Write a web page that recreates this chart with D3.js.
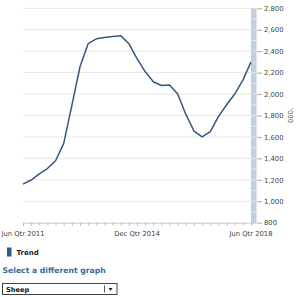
<!DOCTYPE html>
<html><head><meta charset="utf-8">
<script src="https://cdn.jsdelivr.net/npm/d3@7"></script>
<style>
body{margin:0;background:#fff;font-family:"DejaVu Sans",Verdana,sans-serif;}
svg{display:block;}
</style></head>
<body>
<svg id="c" width="300" height="297"></svg>
<script>
const quarters = [];
(function(){const m=["Jun","Sep","Dec","Mar"];let y=2011;for(let i=0;i<29;i++){const q=m[i%4];if(q==="Mar")y++;quarters.push(q+" Qtr "+y);}})();
const trend = [1160,1198,1255,1305,1378,1540,1895,2255,2470,2515,2528,2538,2545,2470,2330,2210,2115,2080,2085,2000,1810,1655,1600,1650,1790,1900,2000,2130,2300];
const yTicks = [800,1000,1200,1400,1600,1800,2000,2200,2400,2600,2800];
const xLabelTicks = ["Jun Qtr 2011","Dec Qtr 2014","Jun Qtr 2018"];
const seriesName = "Trend";
const unitLabel = "'000";

const FF = "DejaVu Sans, Verdana, sans-serif";
const svg = d3.select("#c").attr("font-family",FF);
const L=23, R=251, T=8.3, B=222.7;
const x = d3.scalePoint().domain(quarters).range([L,R]);
const y = d3.scaleLinear().domain([800,2800]).range([B,T]);

// gridlines
svg.append("g").selectAll("line").data(yTicks.slice(1)).join("line")
  .attr("x1",L).attr("x2",R).attr("y1",d=>y(d)).attr("y2",d=>y(d))
  .attr("stroke","#e8e8e8").attr("stroke-width",1);

// right axis bar
svg.append("rect").attr("x",R).attr("y",T).attr("width",5.5).attr("height",B-T+1).attr("fill","#c3cfdf");
svg.append("g").selectAll("line").data(d3.range(900,2800,100)).join("line")
  .attr("x1",R).attr("x2",R+5.5).attr("y1",d=>y(d)).attr("y2",d=>y(d))
  .attr("stroke","#dfe6ef").attr("stroke-width",1);

// right y axis
const ya = svg.append("g").attr("transform",`translate(${R+6},0)`)
  .call(d3.axisRight(y).tickValues(yTicks).tickSize(5).tickPadding(2).tickFormat(d3.format(",")));
ya.select(".domain").remove();
ya.selectAll("line").attr("stroke","#aaa");
ya.selectAll("text").attr("font-family",FF).attr("font-size","6.8px").attr("fill","#444");

svg.append("text").attr("transform",`translate(288,${y(1800)}) rotate(90)`)
  .attr("text-anchor","middle").attr("font-size","6.8px").attr("fill","#444").text(unitLabel);

// x axis
const xa = svg.append("g").attr("transform",`translate(0,${B})`)
  .call(d3.axisBottom(x).tickValues(quarters).tickSize(3).tickFormat(""));
xa.select(".domain").attr("stroke","#ccc");
xa.selectAll("line").attr("stroke","#bbb");
svg.append("g").selectAll("text").data(xLabelTicks).join("text")
  .attr("x",d=>x(d)).attr("y",236).attr("text-anchor","middle")
  .attr("font-size","6.8px").attr("fill","#444").text(d=>d);

// line
svg.append("path").datum(trend)
  .attr("fill","none").attr("stroke","#34587e").attr("stroke-width",1.5).attr("stroke-linejoin","round")
  .attr("d",d3.line().x((d,i)=>x(quarters[i])).y(d=>y(d)));

// legend
svg.append("rect").attr("x",7).attr("y",247.5).attr("width",4.5).attr("height",9).attr("fill","#2e5d8c");
svg.append("text").attr("x",16.5).attr("y",254.5).attr("font-size","7px").attr("font-weight","bold").attr("fill","#222").text(seriesName);

// select title
svg.append("text").attr("x",2.5).attr("y",273).attr("font-size","7.7px").attr("font-weight","bold").attr("fill","#3a6896").text("Select a different graph");

// dropdown
svg.append("rect").attr("x",2.5).attr("y",283.5).attr("width",114.5).attr("height",11).attr("fill","#fff").attr("stroke","#444");
svg.append("text").attr("x",6).attr("y",291.5).attr("font-size","6.6px").attr("font-weight","bold").attr("fill","#111").text("Sheep");
svg.append("line").attr("x1",104.5).attr("x2",104.5).attr("y1",285.5).attr("y2",292.5).attr("stroke","#555");
svg.append("path").attr("d","M108.5,288 L112.5,288 L110.5,291 Z").attr("fill","#222");
</script>
</body></html>
